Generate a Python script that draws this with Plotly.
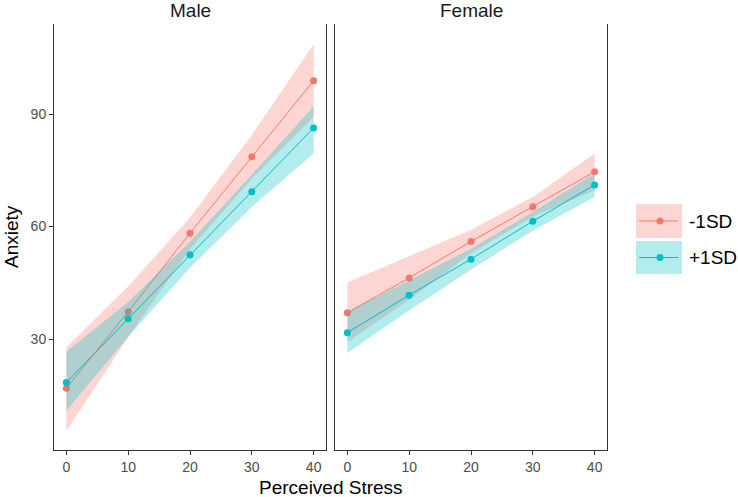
import plotly.graph_objects as go

# ---- data ----
stress = [0, 10, 20, 30, 40]
groups = ["-1SD", "+1SD"]
panels = ["Male", "Female"]

male_low_fit = [16.9, 37.3, 58.2, 78.6, 98.9]
male_low_lo = [5.5, 30.5, 54.0, 72.8, 89.2]
male_low_hi = [27.8, 44.0, 62.4, 84.4, 108.6]

male_high_fit = [18.4, 35.4, 52.5, 69.3, 86.3]
male_high_lo = [10.9, 30.6, 49.0, 65.2, 79.5]
male_high_hi = [26.6, 39.9, 56.0, 73.8, 92.1]

female_low_fit = [37.0, 46.3, 56.0, 65.3, 74.6]
female_low_lo = [29.2, 40.5, 52.9, 62.7, 69.7]
female_low_hi = [45.1, 52.1, 59.1, 67.9, 79.5]

female_high_fit = [31.7, 41.7, 51.3, 61.4, 71.1]
female_high_lo = [26.3, 37.7, 48.5, 58.9, 67.9]
female_high_hi = [37.2, 45.7, 54.1, 63.9, 74.2]

y_ticks = [30, 60, 90]
x_ticks = [0, 10, 20, 30, 40]

RED = "#F8766D"
TEAL = "#00BFC4"
RED_FILL = "rgba(248,118,109,0.3)"
TEAL_FILL = "rgba(0,191,196,0.3)"
FONT = "Liberation Sans, Arial, sans-serif"

W, H = 738, 497
def px(x):
    return x / W
def py(y):
    return 1 - y / H

fig = go.Figure()

series = [
    ("x", "y", male_low_fit, male_low_lo, male_low_hi, RED, RED_FILL),
    ("x", "y", male_high_fit, male_high_lo, male_high_hi, TEAL, TEAL_FILL),
    ("x2", "y2", female_low_fit, female_low_lo, female_low_hi, RED, RED_FILL),
    ("x2", "y2", female_high_fit, female_high_lo, female_high_hi, TEAL, TEAL_FILL),
]
for xa, ya, fit, lo, hi, col, fillc in series:
    fig.add_trace(go.Scatter(
        x=stress + stress[::-1], y=hi + lo[::-1], xaxis=xa, yaxis=ya,
        fill="toself", fillcolor=fillc, line=dict(width=0), mode="lines",
        hoverinfo="skip", showlegend=False))
    fig.add_trace(go.Scatter(
        x=stress, y=fit, xaxis=xa, yaxis=ya, mode="lines+markers",
        line=dict(color=col, width=1), marker=dict(color=col, size=7),
        showlegend=False))

L1, R1 = 54, 326
L2, R2 = 335, 607
T, B = 24, 450
yr = [0.4, 114]
xr = [-2, 42]

TICKFONT = dict(size=14, color="#4D4D4D")
axis_common = dict(showgrid=False, zeroline=False, showline=True,
                   linecolor="#333333", linewidth=1)
fig.update_layout(
    width=W, height=H, margin=dict(l=0, r=0, t=0, b=0),
    plot_bgcolor="white", paper_bgcolor="white", showlegend=False,
    font=dict(family=FONT),
    xaxis=dict(domain=[px(L1), px(R1)], range=xr, tickvals=x_ticks,
               ticks="outside", ticklen=4, tickcolor="#333333",
               tickfont=TICKFONT, anchor="y", **axis_common),
    xaxis2=dict(domain=[px(L2), px(R2)], range=xr, tickvals=x_ticks,
                ticks="outside", ticklen=4, tickcolor="#333333",
                tickfont=TICKFONT, anchor="y2", **axis_common),
    yaxis=dict(domain=[py(B), py(T)], range=yr, tickvals=y_ticks, mirror=True,
               ticks="outside", ticklen=4, tickcolor="#333333",
               tickfont=TICKFONT, anchor="x", **axis_common),
    yaxis2=dict(domain=[py(B), py(T)], range=yr, tickvals=y_ticks, mirror=True,
                showticklabels=False, ticks="", anchor="x2", **axis_common),
)

TS = 19
ann = []
ann.append(dict(text=panels[0], x=px((L1 + R1) / 2), y=py(10), xref="paper", yref="paper",
                showarrow=False, font=dict(size=TS, color="#1a1a1a"), xanchor="center", yanchor="middle"))
ann.append(dict(text=panels[1], x=px((L2 + R2) / 2), y=py(10), xref="paper", yref="paper",
                showarrow=False, font=dict(size=TS, color="#1a1a1a"), xanchor="center", yanchor="middle"))
ann.append(dict(text="Perceived Stress", x=px((L1 + R2) / 2), y=py(487), xref="paper", yref="paper",
                showarrow=False, font=dict(size=TS, color="black"), xanchor="center", yanchor="middle"))
ann.append(dict(text="Anxiety", x=px(11), y=py((T + B) / 2), xref="paper", yref="paper",
                textangle=-90, showarrow=False, font=dict(size=TS, color="black"),
                xanchor="center", yanchor="middle"))

# manual legend
shapes = []
leg = [(groups[0], RED, RED_FILL, 204, 238), (groups[1], TEAL, TEAL_FILL, 241, 274)]
for label, col, fillc, y0, y1 in leg:
    yc = (y0 + y1) / 2
    shapes.append(dict(type="rect", xref="paper", yref="paper", x0=px(636), x1=px(682),
                       y0=py(y1), y1=py(y0), fillcolor=fillc, line=dict(width=0), layer="above"))
    shapes.append(dict(type="line", xref="paper", yref="paper", x0=px(639), x1=px(678),
                       y0=py(yc), y1=py(yc), line=dict(color=col, width=1.2), layer="above"))
    shapes.append(dict(type="circle", xref="paper", yref="paper", x0=px(656.5), x1=px(663.5),
                       y0=py(yc + 3.5), y1=py(yc - 3.5), fillcolor=col, line=dict(width=0), layer="above"))
    ann.append(dict(text=label, x=px(687), y=py(yc), xref="paper", yref="paper", showarrow=False,
                    font=dict(size=TS, color="black"), xanchor="left", yanchor="middle"))

fig.update_layout(annotations=ann, shapes=shapes)
fig.write_html("out.html", config={"displayModeBar": False},
               post_script="document.body.style.margin='0';document.body.style.overflow='hidden';")
